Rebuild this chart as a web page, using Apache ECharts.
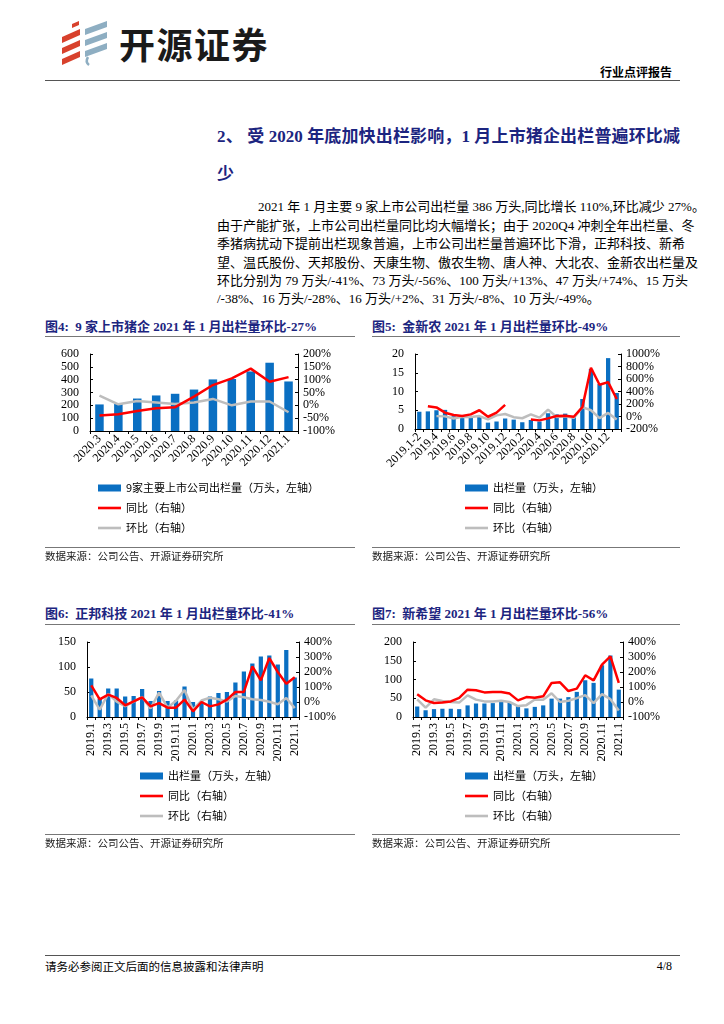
<!DOCTYPE html>
<html>
<head>
<meta charset="utf-8">
<script src="https://cdn.jsdelivr.net/npm/echarts/dist/echarts.min.js"></script>
<style>
  html, body { margin: 0; padding: 0; background: #fff; }
  #page { position: relative; width: 724px; height: 1024px; overflow: hidden; background: #fff;
          font-family: "Liberation Serif", "Noto Sans CJK SC", serif; color: #000; }
  .abs { position: absolute; white-space: nowrap; }
  .rule { position: absolute; height: 0; }
  .para { position: absolute; left: 217px; width: 463px; font-size: 13px; line-height: 16px;
          text-align: justify; text-align-last: justify; white-space: nowrap; }
  .head { position: absolute; left: 217px; width: 463px; font-size: 17px; line-height: 22px; font-weight: bold;
          color: #1c2580; text-align: justify; text-align-last: justify; white-space: nowrap; }
  .ftitle { position: absolute; font-size: 13px; line-height: 18px; font-weight: bold; color: #1c2580; white-space: nowrap; }
  .src { position: absolute; font-size: 10.5px; line-height: 14px; color: #222; font-family: "Noto Sans CJK SC", sans-serif; white-space: nowrap; }
  .chart { position: absolute; width: 310px; height: 212px; }
</style>
</head>
<body>
<div id="page">
  <!-- logo -->
  <svg class="abs" style="left:58px;top:20px" width="52" height="46" viewBox="0 0 52 46">
    <polygon points="14,4 21,1 21,5 14,8" fill="#d8412c"/>
    <polygon points="4,17 22,9 22,15 4,23" fill="#d8412c"/>
    <polygon points="4,28 22,20 22,26 4,34" fill="#d8412c"/>
    <polygon points="4,39 22,31 22,37 4,45" fill="#d8412c"/>
    <polygon points="27,9 49,1 49,7 27,15" fill="#8eaec2"/>
    <polygon points="27,20 49,12 49,18 27,26" fill="#8eaec2"/>
    <polygon points="27,31 49,23 49,29 27,37" fill="#8eaec2"/>
    <path d="M30,37 Q27,42 31,45" stroke="#8eaec2" stroke-width="2.5" fill="none"/>
  </svg>
  <div class="abs" style="left:119px;top:21px;font-family:'Noto Sans CJK SC';font-weight:bold;font-size:36px;line-height:44px;color:#1a1a1a;letter-spacing:1.5px">开源证券</div>
  <div class="abs" style="right:52px;top:64px;font-family:'Noto Sans CJK SC';font-weight:bold;font-size:12px;line-height:16px">行业点评报告</div>
  <div class="rule" style="left:45px;top:80px;width:635px;border-top:1.5px solid #555"></div>

  <!-- heading -->
  <div class="head" style="top:126px">2、 受 2020 年底加快出栏影响，1 月上市猪企出栏普遍环比减</div>
  <div class="head" style="top:164px;text-align-last:left">少</div>

  <!-- paragraph -->
  <div class="para" style="top:199px;left:258px;width:422px">2021 年 1 月主要 9 家上市公司出栏量 386 万头,同比增长 110%,环比减少 27%。</div>
  <div class="para" style="top:218px">由于产能扩张，上市公司出栏量同比均大幅增长；由于 2020Q4 冲刺全年出栏量、冬</div>
  <div class="para" style="top:236px">季猪病扰动下提前出栏现象普遍，上市公司出栏量普遍环比下滑，正邦科技、新希</div>
  <div class="para" style="top:255px">望、温氏股份、天邦股份、天康生物、傲农生物、唐人神、大北农、金新农出栏量及</div>
  <div class="para" style="top:273px">环比分别为 79 万头/-41%、73 万头/-56%、100 万头/+13%、47 万头/+74%、15 万头</div>
  <div class="para" style="top:291px;text-align-last:left">/-38%、16 万头/-28%、16 万头/+2%、31 万头/-8%、10 万头/-49%。</div>

  <div id="c4" class="chart" style="left:45px;top:340px;width:310px"></div>
  <div id="c5" class="chart" style="left:372px;top:340px;width:308px"></div>
  <div id="c6" class="chart" style="left:45px;top:628px;width:310px"></div>
  <div id="c7" class="chart" style="left:372px;top:628px;width:308px"></div>

  <!-- figure titles -->
  <div class="ftitle" style="left:45px;top:318px">图4:&nbsp; 9 家上市猪企 2021 年 1 月出栏量环比-27%</div>
  <div class="rule" style="left:45px;top:336px;width:310px;border-top:1.5px solid #777"></div>
  <div class="ftitle" style="left:372px;top:318px">图5:&nbsp; 金新农 2021 年 1 月出栏量环比-49%</div>
  <div class="rule" style="left:372px;top:336px;width:308px;border-top:1.5px solid #777"></div>
  <div class="ftitle" style="left:45px;top:605px">图6:&nbsp; 正邦科技 2021 年 1 月出栏量环比-41%</div>
  <div class="rule" style="left:45px;top:624px;width:310px;border-top:1.5px solid #777"></div>
  <div class="ftitle" style="left:372px;top:605px">图7:&nbsp; 新希望 2021 年 1 月出栏量环比-56%</div>
  <div class="rule" style="left:372px;top:624px;width:308px;border-top:1.5px solid #777"></div>

  <!-- sources -->
  <div class="rule" style="left:45px;top:547px;width:310px;border-top:1px solid #777"></div>
  <div class="src" style="left:45px;top:549px">数据来源：公司公告、开源证券研究所</div>
  <div class="rule" style="left:372px;top:547px;width:308px;border-top:1px solid #777"></div>
  <div class="src" style="left:372px;top:549px">数据来源：公司公告、开源证券研究所</div>
  <div class="rule" style="left:45px;top:834px;width:310px;border-top:1px solid #777"></div>
  <div class="src" style="left:45px;top:836px">数据来源：公司公告、开源证券研究所</div>
  <div class="rule" style="left:372px;top:834px;width:308px;border-top:1px solid #777"></div>
  <div class="src" style="left:372px;top:836px">数据来源：公司公告、开源证券研究所</div>

  <!-- footer -->
  <div class="rule" style="left:45px;top:955px;width:635px;border-top:1.5px solid #555"></div>
  <div class="src" style="left:45px;top:959px;font-size:11.5px;line-height:15px;color:#000">请务必参阅正文后面的信息披露和法律声明</div>
  <div class="abs" style="right:52px;top:958px;font-size:12px;line-height:16px">4/8</div>
</div>

<script>
// ---------- Figure 4: 9 listed hog companies ----------
const c4Categories = ['2020.3','2020.4','2020.5','2020.6','2020.7','2020.8','2020.9','2020.10','2020.11','2020.12','2021.1'];
const c4Volume = [207, 210, 253, 277, 290, 323, 402, 405, 464, 532, 386];
const c4Yoy = [-40, -35, -22, -11, -7, 34, 79, 105, 143, 92, 110];
const c4Mom = [38, 4, 17, 11, 5, 11, 25, 0, 15, 15, -27];
const c4LeftTicks = { min: 0, max: 600, interval: 100 };
const c4RightTicks = { min: -100, max: 200, interval: 50 };

// ---------- Figure 5: Jinxinnong ----------
const c5Categories = ['2019.1-2','2019.3','2019.4','2019.5','2019.6','2019.7','2019.8','2019.9','2019.10','2019.11','2019.12',
  '2020.1','2020.2','2020.3','2020.4','2020.5','2020.6','2020.7','2020.8','2020.9','2020.10','2020.11','2020.12','2021.1'];
const c5Volume = [4.6, 4.7, 5.0, 5.1, 3.4, 3.3, 3.0, 3.2, 1.7, 2.0, 2.8, 2.5, 1.8, 2.4, 2.0, 4.2, 3.9, 4.1, 3.2, 8.0, 16.0, 12.0, 18.9, 9.6];
const c5Yoy = [null, 165, 145, 61, 23, 7, 34, 100, -4, 61, 187, null, null, -49, -62, -30, 7, 12, -4, 150, 780, 507, 550, 280];
const c5Mom = [null, null, 6, 2, -33, -3, -9, 7, -47, 18, 40, -11, -28, 33, -17, 110, -7, 5, -22, 150, 100, -25, 57, -49];
const c5LeftTicks = { min: 0, max: 20, interval: 5 };
const c5RightTicks = { min: -200, max: 1000, interval: 200 };

// ---------- Figures 6 & 7 share months ----------
const c67Categories = ['2019.1','2019.2','2019.3','2019.4','2019.5','2019.6','2019.7','2019.8','2019.9','2019.10','2019.11','2019.12',
  '2020.1','2020.2','2020.3','2020.4','2020.5','2020.6','2020.7','2020.8','2020.9','2020.10','2020.11','2020.12','2021.1'];
// Figure 6: Zhengbang
const c6Volume = [77, 37, 57, 57, 41, 42, 56, 32, 52, 32, 33, 61, 30, 31, 41, 48, 50, 69, 91, 107, 121, 123, 105, 134, 79];
const c6Yoy = [111, 18, 49, 27, -22, 4, 31, -29, -7, -38, -38, 16, -62, 0, -29, -16, 16, 67, 67, 238, 144, 293, 200, 122, 165];
const c6Mom = [44, -51, 54, 2, -28, 2, 33, -43, 63, -38, 8, 80, -51, 10, 28, 18, 3, 40, 32, 18, 13, 2, -15, 27, -41];
const c6LeftTicks = { min: 0, max: 150, interval: 50 };
const c6RightTicks = { min: -100, max: 400, interval: 100 };
// Figure 7: New Hope
const c7Volume = [28, 18, 21, 22, 22, 21, 31, 36, 36, 37, 40, 40, 29, 23, 27, 31, 49, 49, 53, 67, 98, 91, 138, 164, 73];
const c7Yoy = [51, 11, -7, -4, 4, 27, 82, 78, 64, 67, 67, 56, 11, 33, 29, 38, 127, 131, 73, 89, 178, 144, 249, 304, 127];
const c7Mom = [18, -38, 18, 7, 0, -4, 44, 16, 4, 4, 8, 0, -27, -21, 17, 15, 58, 0, 8, 26, 46, -7, 52, 19, -56];
const c7LeftTicks = { min: 0, max: 200, interval: 50 };
const c7RightTicks = { min: -100, max: 400, interval: 100 };

const LBL_VOL_9 = '9家主要上市公司出栏量（万头，左轴）';
const LBL_VOL = '出栏量（万头，左轴）';
const LBL_YOY = '同比（右轴）';
const LBL_MOM = '环比（右轴）';

const AXIS_FONT = 'Liberation Serif';
const CJK_FONT = 'Noto Sans CJK SC';
const LINE_ICON = 'path://M0,0 L23,0 L23,2.6 L0,2.6 Z';

function build(id, o) {
  const chart = echarts.init(document.getElementById(id), null, { renderer: 'canvas' });
  const axisLine = { show: true, lineStyle: { color: '#000', width: 1 } };
  chart.setOption({
    animation: false,
    backgroundColor: 'transparent',
    grid: o.grid,
    legend: {
      orient: 'vertical', left: o.legendLeft, top: 137,
      itemWidth: 23, itemHeight: 7, itemGap: 8, height: 70,
      textStyle: { fontFamily: CJK_FONT, fontSize: 11, color: '#000', lineHeight: 12 },
      data: [
        { name: o.volName, icon: 'rect' },
        { name: LBL_YOY, icon: LINE_ICON },
        { name: LBL_MOM, icon: LINE_ICON }
      ]
    },
    xAxis: {
      type: 'category', data: o.categories, boundaryGap: true,
      axisLine: axisLine,
      axisTick: { show: true, length: 3, interval: 0, lineStyle: { color: '#000' } },
      axisLabel: { interval: o.labelInterval, rotate: o.rotate, margin: 6, fontFamily: AXIS_FONT, fontSize: 12, color: '#000' }
    },
    yAxis: [
      { type: 'value', min: o.left.min, max: o.left.max, interval: o.left.interval,
        axisLine: axisLine, axisTick: { show: true, inside: true, length: 3, lineStyle: { color: '#000' } },
        splitLine: { show: false },
        axisLabel: { margin: 11, fontFamily: AXIS_FONT, fontSize: 12, color: '#000' } },
      { type: 'value', min: o.right.min, max: o.right.max, interval: o.right.interval, position: 'right',
        axisLine: axisLine, axisTick: { show: true, inside: true, length: 3, lineStyle: { color: '#000' } },
        splitLine: { show: false },
        axisLabel: { margin: 5, formatter: function (v) { return v + '%'; }, fontFamily: AXIS_FONT, fontSize: 12, color: '#000' } }
    ],
    series: [
      { name: o.volName, type: 'bar', data: o.vol, barWidth: o.barWidth, itemStyle: { color: '#0A6FC2' } },
      { name: LBL_MOM, type: 'line', yAxisIndex: 1, data: o.mom, symbol: 'none', connectNulls: false,
        lineStyle: { color: '#BDBDBD', width: 2.5 }, itemStyle: { color: '#BDBDBD' } },
      { name: LBL_YOY, type: 'line', yAxisIndex: 1, data: o.yoy, symbol: 'none', connectNulls: false,
        lineStyle: { color: '#FF0000', width: 2.5 }, itemStyle: { color: '#FF0000' } }
    ]
  });
}

build('c4', { categories: c4Categories, vol: c4Volume, yoy: c4Yoy, mom: c4Mom, volName: LBL_VOL_9,
  left: c4LeftTicks, right: c4RightTicks, grid: { left: 45, right: 57, top: 14, height: 77 },
  legendLeft: 48, labelInterval: 0, rotate: 45, barWidth: '45%' });
build('c5', { categories: c5Categories, vol: c5Volume, yoy: c5Yoy, mom: c5Mom, volName: LBL_VOL,
  left: c5LeftTicks, right: c5RightTicks, grid: { left: 43, right: 59, top: 14, height: 75 },
  legendLeft: 88, labelInterval: 1, rotate: 45, barWidth: '50%' });
build('c6', { categories: c67Categories, vol: c6Volume, yoy: c6Yoy, mom: c6Mom, volName: LBL_VOL,
  left: c6LeftTicks, right: c6RightTicks, grid: { left: 42, right: 56, top: 14, height: 75 },
  legendLeft: 90, labelInterval: 1, rotate: 90, barWidth: '50%' });
build('c7', { categories: c67Categories, vol: c7Volume, yoy: c7Yoy, mom: c7Mom, volName: LBL_VOL,
  left: c7LeftTicks, right: c7RightTicks, grid: { left: 41, right: 57, top: 14, height: 75 },
  legendLeft: 88, labelInterval: 1, rotate: 90, barWidth: '50%' });
</script>
</body>
</html>
